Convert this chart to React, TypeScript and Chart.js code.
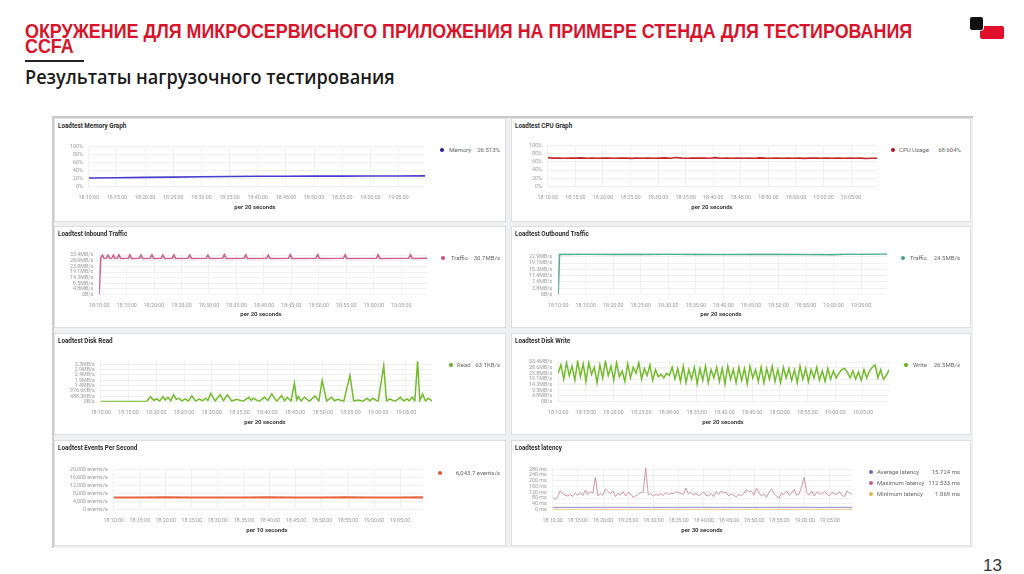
import React, { useEffect, useLayoutEffect, useRef } from "react";
import { Chart, registerables } from "chart.js";

Chart.register(...registerables);

// ---------- shared axis data ----------
const timeTickLabels = ["18:10:00", "18:15:00", "18:20:00", "18:25:00", "18:30:00", "18:35:00", "18:40:00", "18:45:00", "18:50:00", "18:55:00", "19:00:00", "19:05:00"];
const timeTickMinutes = [0, 5, 10, 15, 20, 25, 30, 35, 40, 45, 50, 55];

const percentTicks = [0, 20, 40, 60, 80, 100];
const percentLabels = ["0%", "20%", "40%", "60%", "80%", "100%"];

const mb5Ticks = [0, 4.768, 9.537, 14.305, 19.073, 23.842, 28.61, 33.379];
const mb5Labels = ["0B/s", "4.8MB/s", "9.5MB/s", "14.3MB/s", "19.1MB/s", "23.8MB/s", "28.6MB/s", "33.4MB/s"];

const mb4Ticks = [0, 3.815, 7.629, 11.444, 15.259, 19.073, 22.888];
const mb4Labels = ["0B/s", "3.8MB/s", "7.6MB/s", "11.4MB/s", "15.3MB/s", "19.1MB/s", "22.9MB/s"];

const readTicks = [0, 0.4768, 0.9537, 1.4305, 1.9073, 2.3842, 2.861, 3.3379];
const readLabels = ["0B/s", "488.3KB/s", "976.6KB/s", "1.4MB/s", "1.9MB/s", "2.4MB/s", "2.9MB/s", "3.3MB/s"];

const eventTicks = [0, 4000, 8000, 12000, 16000, 20000];
const eventLabels = ["0 events/s", "4,000 events/s", "8,000 events/s", "12,000 events/s", "16,000 events/s", "20,000 events/s"];

const latencyTicks = [0, 40, 80, 120, 160, 200, 240, 280];
const latencyLabels = ["0 ms", "40 ms", "80 ms", "120 ms", "160 ms", "200 ms", "240 ms", "280 ms"];

// ---------- series values ----------
const memoryValues = [21.5, 22.0, 22.8, 23.6, 24.4, 25.0, 25.5, 25.8, 26.0, 26.1, 26.2, 26.4, 26.5];

const cpuValues = [
  69.5, 68.8, 69.2, 68.5, 69.0, 68.7, 69.4, 68.6, 68.9, 68.3,
  68.8, 69.1, 68.5, 68.9, 68.7, 68.2, 68.9, 68.6, 69.0, 68.4,
  68.8, 69.3, 68.6, 70.4, 68.8, 68.5, 68.9, 68.7, 69.0, 68.4,
  70.0, 68.6, 68.9, 68.5, 69.2, 68.6, 68.8, 68.4, 69.3, 68.7,
  68.5, 68.9, 68.6, 69.1, 68.4, 68.8, 68.2, 68.7, 69.0, 68.3,
  68.8, 68.6, 68.9, 68.4, 68.7, 68.5, 68.8, 67.9, 68.6, 68.6,
];

const inboundTimes = [
  0, 0.3, 0.6, 0.9,
  1.3, 1.6, 1.9, 2.3, 2.6, 2.9, 3.3, 3.6, 3.9,
  5.3, 5.6, 5.9, 7.3, 7.6, 7.9, 9.3, 9.6, 9.9,
  11.3, 11.6, 11.9, 13.3, 13.6, 13.9, 16.2, 16.5, 16.8,
  19.5, 19.8, 20.1, 22.5, 22.8, 23.1, 26.4, 26.7, 27.0,
  30.5, 30.8, 31.1, 34.5, 34.8, 35.1, 39.5, 39.8, 40.1,
  44.5, 44.8, 45.1, 50.5, 50.8, 51.1, 56.4, 56.7, 57.0,
  59.7,
];
const inboundValues = [
  0, 31.2, 33.5, 30.6,
  30.8, 33.4, 30.6, 30.8, 33.4, 30.6, 30.8, 33.6, 30.6,
  30.8, 33.6, 30.6, 30.8, 33.5, 30.6, 30.8, 33.8, 30.6,
  30.8, 33.5, 30.6, 30.8, 33.6, 30.6, 30.8, 33.5, 30.6,
  30.8, 33.4, 30.6, 30.8, 34.0, 30.6, 30.8, 33.6, 30.6,
  30.8, 33.4, 30.6, 30.8, 33.9, 30.6, 30.8, 33.9, 30.6,
  30.8, 33.7, 30.6, 30.8, 33.8, 30.6, 30.8, 33.8, 30.6,
  30.7,
];

const outboundTimes = [0, 0.25, 5, 10, 15, 20, 25, 30, 35, 40, 45, 50, 52, 55, 59.7];
const outboundValues = [0, 24.3, 24.4, 24.3, 24.3, 24.4, 24.3, 24.2, 24.3, 24.3, 24.2, 24.1, 24.4, 24.4, 24.5];

const readTimes = [
  0, 8.3, 8.97, 9.5, 10.1, 10.6, 11.2, 11.6, 12.1, 12.6,
  13.1, 13.6, 14.1, 14.6, 15.2, 15.8, 16.4, 17.1, 17.8, 18.3,
  18.9, 19.3, 19.8, 20.6, 21.5, 22.1, 22.8, 23.6, 24.5, 25.6,
  26.7, 27.1, 27.5, 28.5, 29.5, 30.1, 30.8, 31.7, 32.6, 33.1,
  33.6, 34.3, 34.9, 35.3, 35.6, 36.1, 36.7, 37.6, 38.6, 39.3,
  39.9, 40.7, 41.6, 42.1, 42.7, 43.8, 44.9, 45.6, 46.4, 47.2,
  48.0, 48.5, 49.0, 50.0, 51.0, 51.5, 52.1, 53.0, 54.0, 54.6,
  55.2, 55.6, 56.1, 56.6, 57.1, 57.5, 58.0, 58.5, 59.1, 59.7,
];
const readValues = [
  0.02, 0.03, 0.45, 0.12, 0.24, 0.05, 0.45, 0.15, 0.39, 0.08,
  0.63, 0.2, 0.3, 0.06, 0.24, 0.05, 0.51, 0.05, 0.24, 0.07,
  0.3, 0.1, 0.75, 0.05, 0.63, 0.08, 0.6, 0.05, 0.2, 0.03,
  0.39, 0.12, 0.3, 0.03, 0.39, 0.1, 0.69, 0.04, 0.54, 0.08,
  0.39, 0.05, 1.65, 0.15, 0.45, 0.06, 0.39, 0.03, 0.51, 0.04,
  1.89, 0.06, 0.39, 0.08, 0.2, 0.03, 2.34, 0.06, 0.15, 0.03,
  0.3, 0.07, 0.3, 0.03, 3.21, 0.05, 0.24, 0.03, 0.39, 0.06,
  0.24, 0.07, 0.39, 0.06, 3.6, 0.1, 0.69, 0.08, 0.3, 0.05,
];

const writeValues = [
  24, 31, 19, 33, 22, 30, 18, 34, 21, 32, 17, 33, 23, 29, 16, 31, 20, 34, 22, 30,
  18, 33, 21, 26, 17, 32, 20, 29, 24, 33, 19, 28, 22, 31, 18, 27,
  21, 23, 20, 24, 22, 29,
  19, 28, 17, 30, 16, 27, 19, 29, 15, 28, 18, 30, 16, 27, 20, 29, 17, 28, 15, 30,
  19, 27, 16, 29, 18, 28, 15, 30, 20, 27, 17, 29, 16, 28, 19, 30, 17, 27, 16, 29,
  20, 28, 18, 27, 16, 30, 19, 28, 17, 27, 20, 29, 18, 26, 17, 28, 19, 26,
  20, 24, 27, 28, 25, 20,
  26, 19, 25, 18, 27, 20, 26, 29, 31, 20, 27, 19, 22, 27,
];

const eventValues = [6010, 6000, 6020, 5990, 6010, 6000, 6030, 6010, 5990, 6020, 6000, 6010, 6043];

const latencyAvgValues = [16, 15.5, 16.2, 15.8, 15.4, 16, 15.6, 15.9, 15.5, 16.1, 15.7, 15.6, 15.7];
const latencyMinValues = [1.1, 1.0, 1.1, 1.0, 1.1, 1.1, 1.0, 1.1, 1.0, 1.1, 1.0, 1.1, 1.07];
const latencyMaxValues = [
  85, 70, 90, 130, 110, 100, 95, 105, 92, 115, 100, 120, 98, 135, 105, 125, 115, 225, 95, 110,
  100, 145, 125, 110, 130, 90, 115, 100, 125, 95, 120, 110, 85, 95, 105, 118, 120, 290, 105, 110,
  95, 105, 100, 110, 98, 120, 105, 115, 110, 125, 118, 112, 105, 150, 110, 120, 100, 115, 95, 108,
  122, 100, 95, 112, 90, 125, 105, 130, 115, 120, 95, 110, 100, 88, 105, 98, 112, 140, 125, 130,
  100, 150, 118, 95, 110, 85, 120, 145, 110, 95, 80, 115, 105, 130, 100, 115, 140, 100, 110, 160,
  225, 120, 100, 130, 95, 120, 115, 105, 125, 110, 95, 120, 110, 105, 125, 100, 90, 130, 115, 105,
];

// ---------- helpers ----------
const SPAN = 59.7;
const SPAN_SHORT = 59.4;
const evenTimes = (n: number, span: number) => Array.from({ length: n }, (_, i) => (i * span) / (n - 1));

const TICK_FONT = 5.3;
const Y_PAD = 6;
const X_PAD = 8;
const Y_PAD_TOP = (TICK_FONT * 1.2) / 2 + Y_PAD;
// measured: the x axis reserves the tick padding twice plus the label line height
const X_AXIS_H = 2 * X_PAD + TICK_FONT * 1.2 + 0.6;

type Series = { xs: number[]; ys: number[]; color: string; width: number };
type LegendRow = { color: string; name: string; value: string };
type PanelSpec = {
  title: string;
  box: [number, number, number, number];
  canvasLeft: number;
  plotTop: number;
  plotBottom: number;
  plotRight: number;
  xMax: number;
  yMax: number;
  yTicks: number[];
  yLabels: string[];
  xTitle: string;
  xTitlePos: [number, number];
  series: Series[];
  legend: LegendRow[];
  legendY: number;
  dotX: number;
  nameX: number;
  valueRight: number;
};

const FONT = "Roboto, 'DejaVu Sans', sans-serif";

function FitText({ left, top, width, style, children }: any) {
  const ref = useRef<HTMLDivElement>(null);
  useLayoutEffect(() => {
    const el = ref.current as HTMLDivElement;
    el.style.transform = "none";
    const w = el.offsetWidth;
    if (w > 0) el.style.transform = `scaleX(${width / w})`;
  }, []);
  return (
    <div
      ref={ref}
      style={{ position: "absolute", left, top, whiteSpace: "nowrap", transformOrigin: "0 0", ...style }}
    >
      {children}
    </div>
  );
}

function ChartCanvas({ spec }: { spec: PanelSpec }) {
  const ref = useRef<HTMLCanvasElement>(null);
  const canvasTop = Math.round(spec.plotTop - Y_PAD_TOP);
  const w = Math.round(spec.plotRight - spec.canvasLeft);
  const h = Math.round(spec.plotBottom - canvasTop + X_AXIS_H);
  useEffect(() => {
    const chart = new Chart(ref.current as HTMLCanvasElement, {
      type: "line",
      data: {
        datasets: spec.series.map((s) => ({
          data: s.xs.map((x, i) => ({ x, y: s.ys[i] })),
          borderColor: s.color,
          borderWidth: s.width,
          pointRadius: 0,
          tension: 0,
          fill: false,
        })),
      },
      options: {
        animation: false,
        responsive: false,
        events: [],
        plugins: { legend: { display: false }, tooltip: { enabled: false } },
        layout: { padding: 0 },
        scales: {
          x: {
            type: "linear",
            bounds: "data",
            min: 0,
            max: spec.xMax,
            afterBuildTicks: (s: any) => {
              s.ticks = timeTickMinutes.map((v) => ({ value: v }));
            },
            ticks: {
              autoSkip: false,
              maxRotation: 0,
              padding: X_PAD,
              color: "#9a9a9a",
              font: { size: TICK_FONT, family: FONT },
              callback: (_v: any, i: number) => timeTickLabels[i],
            },
            grid: { color: "#eeeeee", drawTicks: false, lineWidth: 0.8 },
            border: { display: false },
          },
          y: {
            type: "linear",
            bounds: "data",
            min: 0,
            max: spec.yMax,
            afterBuildTicks: (s: any) => {
              s.ticks = spec.yTicks.map((v) => ({ value: v }));
            },
            ticks: {
              autoSkip: false,
              padding: Y_PAD,
              color: "#9a9a9a",
              font: { size: TICK_FONT, family: FONT },
              callback: (_v: any, i: number) => spec.yLabels[i],
            },
            grid: { color: "#eeeeee", drawTicks: false, lineWidth: 0.8 },
            border: { display: false },
          },
        },
      } as any,
    });
    return () => chart.destroy();
  }, []);
  return (
    <canvas
      ref={ref}
      width={w}
      height={h}
      style={{ position: "absolute", left: spec.canvasLeft, top: canvasTop, width: w, height: h }}
    />
  );
}

function Panel({ spec }: { spec: PanelSpec }) {
  const [l, t, w, h] = spec.box;
  return (
    <>
      <div
        style={{
          position: "absolute",
          left: l,
          top: t,
          width: w,
          height: h,
          background: "#ffffff",
          border: "1px solid #dedede",
          boxSizing: "border-box",
        }}
      />
      <div
        style={{
          position: "absolute",
          left: l + 4,
          top: t + 4,
          fontFamily: FONT,
          fontWeight: 700,
          fontSize: 6.3,
          lineHeight: "8px",
          color: "#2e2e2e",
          whiteSpace: "nowrap",
        }}
      >
        {spec.title}
      </div>
      <ChartCanvas spec={spec} />
      <div
        style={{
          position: "absolute",
          left: spec.xTitlePos[0] - 50,
          width: 100,
          top: spec.xTitlePos[1] - 4,
          textAlign: "center",
          fontFamily: FONT,
          fontWeight: 700,
          fontSize: 6,
          lineHeight: "8px",
          color: "#3a3a3a",
          whiteSpace: "nowrap",
        }}
      >
        {spec.xTitle}
      </div>
      {spec.legend.map((row, i) => {
        const cy = spec.legendY + i * 11;
        return (
          <React.Fragment key={i}>
            <div
              style={{
                position: "absolute",
                left: spec.dotX - 2.3,
                top: cy - 2.3,
                width: 4.6,
                height: 4.6,
                borderRadius: "50%",
                background: row.color,
              }}
            />
            {row.name ? (
              <div
                style={{
                  position: "absolute",
                  left: spec.nameX,
                  top: cy - 4,
                  fontFamily: FONT,
                  fontSize: 6,
                  lineHeight: "8px",
                  color: "#666666",
                  whiteSpace: "nowrap",
                }}
              >
                {row.name}
              </div>
            ) : null}
            <div
              style={{
                position: "absolute",
                right: 1024 - spec.valueRight,
                top: cy - 4,
                fontFamily: FONT,
                fontSize: 6,
                lineHeight: "8px",
                color: "#666666",
                whiteSpace: "nowrap",
                textAlign: "right",
              }}
            >
              {row.value}
            </div>
          </React.Fragment>
        );
      })}
    </>
  );
}

const GREEN = "#72bb2a";

const panels: PanelSpec[] = [
  {
    title: "Loadtest Memory Graph",
    box: [54, 118, 452, 104],
    canvasLeft: 64,
    plotTop: 146,
    plotBottom: 186,
    plotRight: 425,
    xMax: SPAN,
    yMax: 100,
    yTicks: percentTicks,
    yLabels: percentLabels,
    xTitle: "per 20 seconds",
    xTitlePos: [255, 206.5],
    series: [{ xs: evenTimes(memoryValues.length, SPAN), ys: memoryValues, color: "#4a3ccc", width: 1.6 }],
    legend: [{ color: "#2b1c8c", name: "Memory", value: "26.513%" }],
    legendY: 150,
    dotX: 442,
    nameX: 449,
    valueRight: 500,
  },
  {
    title: "Loadtest CPU Graph",
    box: [511, 118, 460, 104],
    canvasLeft: 523,
    plotTop: 145.5,
    plotBottom: 186,
    plotRight: 877,
    xMax: SPAN,
    yMax: 100,
    yTicks: percentTicks,
    yLabels: percentLabels,
    xTitle: "per 20 seconds",
    xTitlePos: [712, 206.5],
    series: [{ xs: evenTimes(cpuValues.length, SPAN), ys: cpuValues, color: "#c2262e", width: 1.6 }],
    legend: [{ color: "#a3151d", name: "CPU Usage", value: "68.604%" }],
    legendY: 150,
    dotX: 893,
    nameX: 899,
    valueRight: 961,
  },
  {
    title: "Loadtest Inbound Traffic",
    box: [54, 226, 452, 102],
    canvasLeft: 64,
    plotTop: 253.6,
    plotBottom: 294,
    plotRight: 427,
    xMax: SPAN,
    yMax: 35,
    yTicks: mb5Ticks,
    yLabels: mb5Labels,
    xTitle: "per 20 seconds",
    xTitlePos: [261, 314],
    series: [{ xs: inboundTimes, ys: inboundValues, color: "#cf5f8d", width: 1.5 }],
    legend: [{ color: "#c8507f", name: "Traffic", value: "30.7MB/s" }],
    legendY: 258,
    dotX: 443,
    nameX: 451,
    valueRight: 500,
  },
  {
    title: "Loadtest Outbound Traffic",
    box: [511, 226, 460, 102],
    canvasLeft: 523,
    plotTop: 252.8,
    plotBottom: 294,
    plotRight: 887,
    xMax: SPAN,
    yMax: 25,
    yTicks: mb4Ticks,
    yLabels: mb4Labels,
    xTitle: "per 20 seconds",
    xTitlePos: [721, 314],
    series: [{ xs: outboundTimes, ys: outboundValues, color: "#4fae8b", width: 1.6 }],
    legend: [{ color: "#3fa37e", name: "Traffic", value: "24.5MB/s" }],
    legendY: 258,
    dotX: 903,
    nameX: 910,
    valueRight: 960,
  },
  {
    title: "Loadtest Disk Read",
    box: [54, 333, 452, 102],
    canvasLeft: 64,
    plotTop: 360.3,
    plotBottom: 401,
    plotRight: 432,
    xMax: SPAN,
    yMax: 3.7,
    yTicks: readTicks,
    yLabels: readLabels,
    xTitle: "per 20 seconds",
    xTitlePos: [265, 421.5],
    series: [{ xs: readTimes, ys: readValues, color: GREEN, width: 1.5 }],
    legend: [{ color: "#5fae1f", name: "Read", value: "63.1KB/s" }],
    legendY: 365,
    dotX: 451,
    nameX: 457,
    valueRight: 500,
  },
  {
    title: "Loadtest Disk Write",
    box: [511, 333, 460, 102],
    canvasLeft: 523,
    plotTop: 360.4,
    plotBottom: 401,
    plotRight: 889,
    xMax: SPAN,
    yMax: 35,
    yTicks: mb5Ticks,
    yLabels: mb5Labels,
    xTitle: "per 20 seconds",
    xTitlePos: [723, 421.5],
    series: [{ xs: evenTimes(writeValues.length, SPAN), ys: writeValues, color: GREEN, width: 1.5 }],
    legend: [{ color: "#5fae1f", name: "Write", value: "26.5MB/s" }],
    legendY: 365,
    dotX: 906,
    nameX: 913,
    valueRight: 960,
  },
  {
    title: "Loadtest Events Per Second",
    box: [54, 440, 452, 106],
    canvasLeft: 64,
    plotTop: 469.3,
    plotBottom: 508.7,
    plotRight: 423,
    xMax: SPAN_SHORT,
    yMax: 20000,
    yTicks: eventTicks,
    yLabels: eventLabels,
    xTitle: "per 10 seconds",
    xTitlePos: [267, 529.5],
    series: [{ xs: evenTimes(eventValues.length, SPAN_SHORT), ys: eventValues, color: "#e8633f", width: 2.2 }],
    legend: [{ color: "#e5533b", name: "", value: "6,043.7 events/s" }],
    legendY: 473,
    dotX: 440,
    nameX: 451,
    valueRight: 500,
  },
  {
    title: "Loadtest latency",
    box: [511, 440, 460, 106],
    canvasLeft: 523,
    plotTop: 467.6,
    plotBottom: 508.7,
    plotRight: 852,
    xMax: SPAN_SHORT,
    yMax: 295,
    yTicks: latencyTicks,
    yLabels: latencyLabels,
    xTitle: "per 30 seconds",
    xTitlePos: [702, 529.5],
    series: [
      { xs: evenTimes(latencyMaxValues.length, SPAN_SHORT), ys: latencyMaxValues, color: "#c98aa3", width: 0.9 },
      { xs: evenTimes(latencyAvgValues.length, SPAN_SHORT), ys: latencyAvgValues, color: "#9a86c9", width: 1 },
      { xs: evenTimes(latencyMinValues.length, SPAN_SHORT), ys: latencyMinValues, color: "#e6c565", width: 1 },
    ],
    legend: [
      { color: "#7d5fb4", name: "Average latency", value: "15.724 ms" },
      { color: "#d1568a", name: "Maximum latency", value: "112.533 ms" },
      { color: "#e0b545", name: "Minimum latency", value: "1.069 ms" },
    ],
    legendY: 472,
    dotX: 871,
    nameX: 877,
    valueRight: 960,
  },
];

export default function App() {
  return (
    <div
      style={{
        position: "absolute",
        left: 0,
        top: 0,
        width: 1024,
        height: 574,
        background: "#ffffff",
        overflow: "hidden",
      }}
    >
      <FitText
        left={25}
        top={22.5}
        width={887}
        style={{
          fontFamily: "'Liberation Sans', Arial, sans-serif",
          fontWeight: 700,
          fontSize: 21,
          lineHeight: "15px",
          color: "#d7142b",
        }}
      >
        ОКРУЖЕНИЕ ДЛЯ МИКРОСЕРВИСНОГО ПРИЛОЖЕНИЯ НА ПРИМЕРЕ СТЕНДА ДЛЯ ТЕСТИРОВАНИЯ
        <br />
        CCFA
      </FitText>
      <div style={{ position: "absolute", left: 25, top: 60, width: 59, height: 1.5, background: "#222" }} />
      <FitText
        left={25}
        top={68}
        width={370}
        style={{
          fontFamily: "'Open Sans', sans-serif",
          fontWeight: 600,
          fontSize: 19,
          lineHeight: "19px",
          color: "#1a1a1a",
        }}
      >
        Результаты нагрузочного тестирования
      </FitText>
      {/* logo */}
      <div style={{ position: "absolute", left: 980, top: 26, width: 24, height: 13, background: "#e0102a", borderRadius: 2 }} />
      <div
        style={{
          position: "absolute",
          left: 969,
          top: 16,
          width: 13,
          height: 13,
          background: "#111",
          borderRadius: 3,
          border: "1.5px solid #fff",
        }}
      />
      {/* dashboard */}
      <div
        style={{
          position: "absolute",
          left: 52,
          top: 116,
          width: 921,
          height: 432,
          background: "#eef0f2",
          borderTop: "2px solid #c9c9c9",
          borderLeft: "2px solid #cfcfcf",
          boxSizing: "border-box",
        }}
      />
      {panels.map((p, i) => (
        <Panel key={i} spec={p} />
      ))}
      <div
        style={{
          position: "absolute",
          left: 983,
          top: 556,
          fontFamily: "'Liberation Sans', Arial, sans-serif",
          fontSize: 17,
          lineHeight: "20px",
          color: "#333",
        }}
      >
        13
      </div>
    </div>
  );
}
